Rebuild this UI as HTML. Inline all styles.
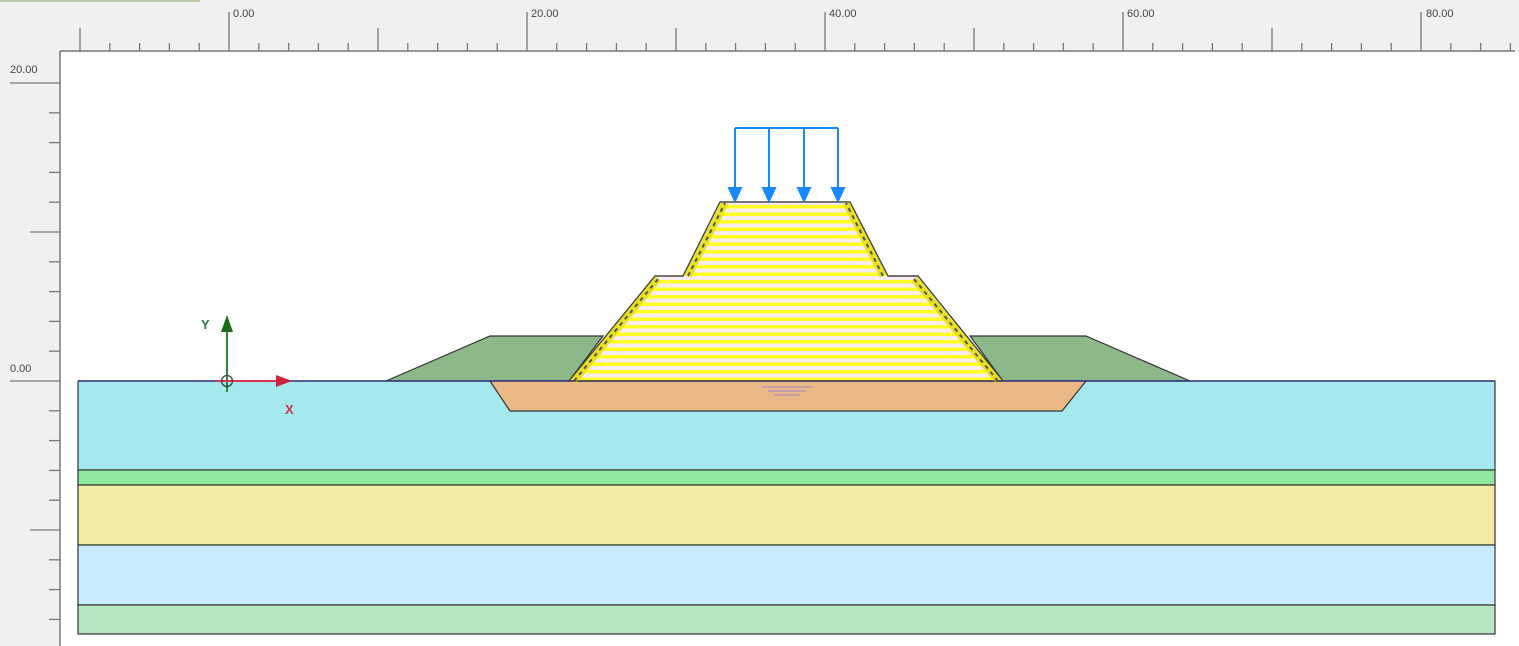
<!DOCTYPE html>
<html><head><style>
html,body{margin:0;padding:0;background:#f0f0f0;width:1519px;height:646px;overflow:hidden}
svg{display:block;font-family:"Liberation Sans",sans-serif}
</style></head><body>
<svg id="s" width="1519" height="646" viewBox="0 0 1519 646">
<defs>
<pattern id="st" width="8" height="7.5" patternUnits="userSpaceOnUse" y="202">
<rect width="8" height="7.5" fill="#f7ecef"/>
<rect y="3" width="8" height="3.5" fill="#ffff22"/>
</pattern>
</defs>
<rect x="0" y="0" width="1519" height="646" fill="#f0f0f0"/>
<rect x="0" y="0" width="200" height="2" fill="#b8c8a8"/>
<rect x="60" y="51" width="1459" height="595" fill="#fff"/>
<line x1="60" y1="51" x2="1515" y2="51" stroke="#777" stroke-width="1.5"/>
<line x1="60" y1="51" x2="60" y2="646" stroke="#777" stroke-width="1.5"/>
<g id="ticks" stroke="#777" stroke-width="1.3"></g>
<g font-size="11" fill="#444">
<text x="233" y="17">0.00</text><text x="531" y="17">20.00</text><text x="829" y="17">40.00</text><text x="1127" y="17">60.00</text><text x="1426" y="17">80.00</text>
<text x="10" y="73">20.00</text><text x="10" y="372">0.00</text>
</g>
<g stroke="#333" stroke-width="1.2">
<rect x="78" y="381" width="1417" height="89" fill="#a5e8ee"/>
<rect x="78" y="470" width="1417" height="15" fill="#90e8a0"/>
<rect x="78" y="485" width="1417" height="60" fill="#f2eda4"/>
<rect x="78" y="545" width="1417" height="60" fill="#c8ecfb"/>
<rect x="78" y="605" width="1417" height="29" fill="#b7e7c0"/>
<polygon points="386,381 490,336 603,336 569,381" fill="#8cb88a"/>
<polygon points="970,336 1086,336 1190,381 1003,381" fill="#8cb88a"/>
<polygon points="490,381 1086,381 1062,411 510,411" fill="#ebb888"/>
<polygon points="569,381 655,276 683,276 720,202 850,202 888,276 918,276 1003,381" fill="url(#st)"/>
</g>
<line x1="78" y1="381" x2="1495" y2="381" stroke="#3a3a8a" stroke-width="1.5"/>
<g stroke="#e8e020" stroke-width="7" fill="none">
<polyline points="574,381 658,279"/><polyline points="688,276 725,203"/>
<polyline points="998,381 914,279"/><polyline points="883,276 846,203"/>
</g>
<g stroke="#555" stroke-width="2" stroke-dasharray="4,4" fill="none">
<polyline points="574,381 658,279"/><polyline points="688,276 725,203"/>
<polyline points="998,381 914,279"/><polyline points="883,276 846,203"/>
</g>
<polygon points="569,381 655,276 683,276 720,202 850,202 888,276 918,276 1003,381" fill="none" stroke="#444" stroke-width="1.2"/>
<g stroke="#b090b8" stroke-width="1.2"><line x1="762" y1="387" x2="812" y2="387"/><line x1="768" y1="391" x2="806" y2="391"/><line x1="774" y1="395" x2="800" y2="395"/></g>
<g stroke="#1a88ff" stroke-width="2" fill="#1a88ff">
<line x1="735" y1="128" x2="838" y2="128"/>
<line x1="735" y1="128" x2="735" y2="190"/><polygon points="729,188 741,188 735,201"/>
<line x1="769" y1="128" x2="769" y2="190"/><polygon points="763,188 775,188 769,201"/>
<line x1="804" y1="128" x2="804" y2="190"/><polygon points="798,188 810,188 804,201"/>
<line x1="838" y1="128" x2="838" y2="190"/><polygon points="832,188 844,188 838,201"/>
</g>
<line x1="227" y1="392" x2="227" y2="330" stroke="#2a8a3a" stroke-width="2"/>
<polygon points="221,332 233,332 227,315" fill="#1a6a1a"/>
<line x1="216" y1="381" x2="278" y2="381" stroke="#e03050" stroke-width="2"/>
<polygon points="276,375 276,387 292,381" fill="#d02040"/>
<circle cx="227" cy="381" r="5.5" fill="none" stroke="#444" stroke-width="1.3"/>
<text x="201" y="329" font-size="13" font-weight="bold" fill="#2a7a4a">Y</text>
<text x="285" y="414" font-size="13" font-weight="bold" fill="#d03050">X</text>
</svg>
<script>
(function(){
var g=document.getElementById('ticks'),h='';
for(var k=-10;k<=86;k+=2){var x=229+k*14.9;if(x<62||x>1515)continue;
var t=(k%20==0)?12:(k%10==0?28:43);h+='<line x1="'+x+'" y1="'+t+'" x2="'+x+'" y2="51"/>';}
for(var m=20;m>=-16;m-=2){var y=381-m*14.9;if(y<55||y>646)continue;
var l=(m%20==0)?10:(m%10==0?30:49);h+='<line x1="'+l+'" y1="'+y+'" x2="60" y2="'+y+'"/>';}
g.innerHTML=h;
})();
</script>
</body></html>
